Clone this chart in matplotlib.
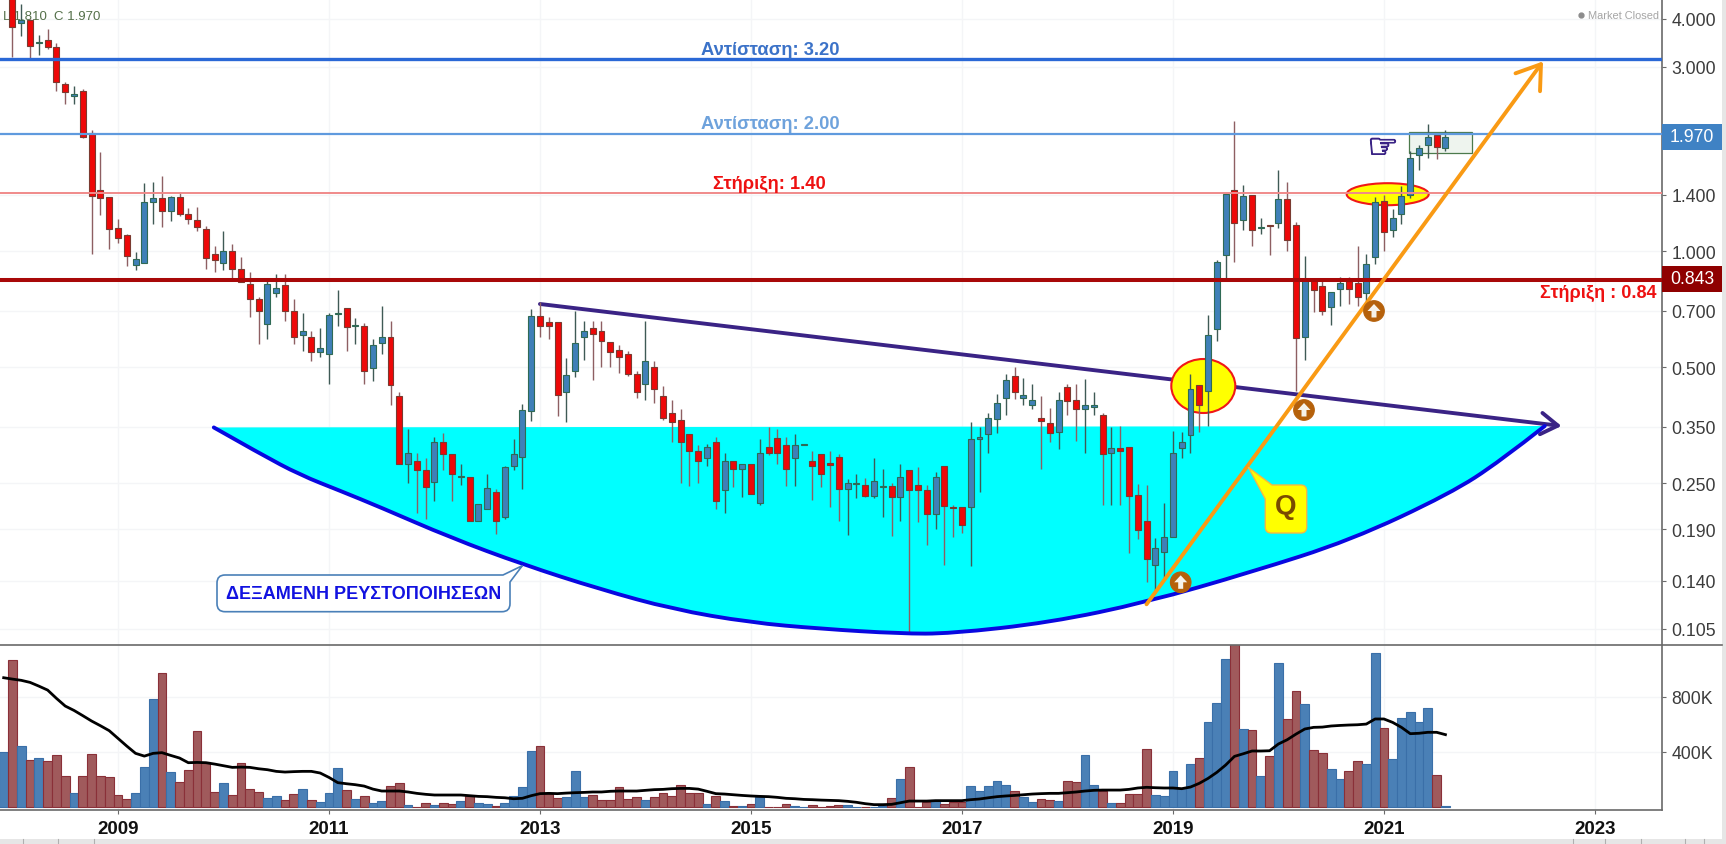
import numpy as np
import matplotlib
matplotlib.use("Agg")
import matplotlib.pyplot as plt
import matplotlib.patheffects as pe
from matplotlib.patches import Ellipse, Circle, Rectangle, PathPatch, Polygon
from matplotlib.path import Path
from matplotlib.lines import Line2D
from matplotlib.transforms import Affine2D
from matplotlib.ticker import NullLocator

plt.rcParams['font.family'] = ['Liberation Sans', 'DejaVu Sans']

# monthly candles, index 0 = Jan 2008, first one (Dec 2007) sits above the view
months = np.arange(-1, 164)
opens = [4.80,
    4.60,3.90,3.97,3.45,3.52,3.38,2.71,2.52,2.60,2.02,
    1.44,1.38,1.15,1.10,.92,.93,1.34,1.37,1.27,1.38,
    1.25,1.20,1.14,.98,.93,1.00,.90,.82,.75,.647,
    .78,.816,.70,.605,.598,.547,.54,.688,.71,.638,
    .64,.497,.578,.598,.42,.28,.285,.27,.252,.32,
    .297,.259,.26,.20,.215,.238,.204,.277,.293,.386,
    .68,.653,.653,.43,.488,.60,.63,.62,.58,.555,
    .54,.481,.451,.50,.42,.38,.365,.336,.304,.29,
    .32,.24,.285,.273,.28,.222,.31,.328,.314,.29,
    .314,.285,.297,.282,.292,.242,.249,.247,.232,.244,
    .246,.23,.27,.247,.241,.208,.277,.217,.217,.217,
    .325,.335,.367,.415,.473,.417,.40,.37,.358,.34,
    .443,.412,.39,.394,.376,.30,.308,.31,.233,.20,
    .154,.166,.181,.308,.333,.45,.433,.628,.976,1.44,
    1.20,1.40,1.148,1.17,1.18,1.36,1.17,.60,.84,.81,
    .715,.796,.838,.828,.78,.966,1.35,1.136,1.25,1.40,
    1.77,1.88,2.00,1.85]
highs = [5.40,
    4.90,4.37,3.99,3.63,3.76,3.46,2.74,2.68,2.63,2.06,
    1.80,1.38,1.21,1.11,.995,1.50,1.51,1.56,1.39,1.42,
    1.29,1.30,1.16,1.03,1.125,1.04,.965,.88,.76,.846,
    .87,.87,.75,.69,.62,.63,.69,.792,.71,.67,
    .65,.591,.72,.66,.431,.346,.30,.29,.33,.337,
    .297,.28,.26,.221,.265,.242,.277,.326,.402,.707,
    .736,.674,.653,.527,.70,.66,.66,.66,.58,.57,
    .55,.49,.66,.52,.446,.41,.39,.336,.314,.316,
    .33,.30,.285,.28,.28,.326,.35,.346,.33,.336,
    .316,.304,.297,.304,.298,.257,.264,.258,.29,.273,
    .25,.28,.27,.275,.247,.267,.277,.22,.217,.36,
    .35,.38,.426,.48,.50,.47,.452,.42,.393,.43,
    .452,.452,.465,.43,.38,.35,.353,.31,.249,.248,
    .18,.222,.342,.34,.48,.45,.683,.945,1.41,2.17,
    1.48,1.40,1.22,1.17,1.62,1.51,1.19,.97,.84,.84,
    .784,.855,.855,1.03,.98,1.38,1.40,1.285,1.47,1.82,
    1.88,2.13,2.00,2.06]
lows = [4.70,
    3.18,3.61,3.12,3.22,3.34,2.60,2.40,2.40,1.96,.98,
    1.24,1.012,1.05,.915,.893,.93,1.175,1.155,1.195,1.23,
    1.175,1.125,.90,.88,.893,.85,.83,.675,.574,.591,
    .76,.66,.574,.55,.52,.53,.452,.64,.55,.574,
    .452,.46,.54,.40,.28,.25,.21,.202,.225,.27,
    .225,.247,.20,.20,.214,.185,.202,.27,.242,.362,
    .60,.591,.373,.36,.472,.523,.463,.50,.50,.484,
    .475,.417,.411,.404,.365,.32,.25,.246,.25,.277,
    .214,.21,.245,.23,.235,.22,.296,.28,.246,.246,
    .314,.226,.244,.217,.20,.184,.229,.231,.229,.205,
    .183,.20,.103,.198,.173,.19,.154,.182,.186,.153,
    .238,.30,.337,.375,.413,.398,.39,.272,.32,.307,
    .376,.322,.30,.376,.22,.22,.22,.165,.179,.139,
    .13,.142,.181,.29,.30,.34,.353,.583,.846,.935,
    1.136,1.03,1.107,.976,1.15,1.00,.435,.523,.693,.684,
    .645,.72,.73,.72,.743,.925,1.00,1.09,1.175,1.37,
    1.625,1.74,1.73,1.82]
closes = [5.20,
    3.81,3.97,3.40,3.47,3.38,2.74,2.58,2.55,1.98,1.39,
    1.37,1.14,1.08,.97,.953,1.34,1.37,1.27,1.38,1.25,
    1.21,1.155,.96,.947,1.00,.898,.83,.75,.70,.82,
    .80,.70,.598,.62,.547,.56,.683,.692,.635,.642,
    .488,.57,.598,.449,.28,.30,.27,.245,.32,.297,
    .264,.261,.20,.221,.243,.20,.275,.297,.388,.677,
    .64,.638,.424,.476,.576,.62,.61,.586,.547,.53,
    .48,.43,.52,.44,.37,.36,.32,.304,.285,.31,
    .225,.285,.273,.28,.235,.30,.30,.30,.272,.314,
    .316,.277,.265,.279,.242,.25,.25,.232,.253,.246,
    .23,.26,.24,.24,.208,.26,.218,.216,.195,.326,
    .33,.37,.403,.463,.432,.424,.41,.362,.337,.412,
    .409,.39,.40,.40,.298,.308,.304,.232,.189,.159,
    .17,.181,.30,.32,.44,.40,.606,.936,1.408,1.18,
    1.39,1.136,1.152,1.158,1.36,1.07,.596,.84,.793,.70,
    .784,.828,.796,.76,.925,1.337,1.123,1.215,1.385,1.745,
    1.85,1.98,1.86,1.97]

# volume in thousands
volumes = [395,
    1064,439,337,351,332,373,225,102,225,381,
    225,213,85,53,102,291,781,970,250,177,
    264,553,322,109,172,85,315,126,109,63,
    75,46,95,126,46,34,102,279,119,53,
    75,27,41,148,172,10,0,24,10,24,
    17,41,80,29,19,2,29,75,141,402,
    439,92,61,70,257,70,82,46,46,141,
    53,68,46,68,99,78,155,99,99,17,
    75,41,2,5,17,68,0,0,17,5,
    0,12,0,5,12,12,0,0,0,5,
    61,201,286,0,36,46,19,32,36,148,
    112,153,184,155,112,68,34,53,46,41,
    184,177,373,160,114,24,29,92,92,417,
    82,78,257,138,308,351,618,756,1076,1300,
    565,560,221,371,1042,637,839,749,410,388,
    274,199,257,330,308,1115,570,347,643,691,
    614,716,233,5]
vol_avg = [938,
    928,919,904,877,848,788,732,700,662,623,
    589,553,497,441,388,368,388,393,373,354,
    320,322,320,310,298,286,288,286,276,269,
    257,252,255,257,257,245,213,175,167,160,
    150,128,114,114,114,107,97,90,85,85,
    85,85,80,75,73,68,65,58,61,80,
    95,97,95,99,102,104,107,107,112,114,
    114,114,119,124,126,131,133,133,128,112,
    95,92,87,82,78,75,73,68,61,58,
    53,51,48,46,44,39,32,22,15,15,
    17,29,41,41,41,44,44,44,44,51,
    56,65,73,78,82,87,92,95,97,97,
    102,107,114,119,121,121,121,126,136,141,
    138,136,136,131,143,170,206,250,303,366,
    385,405,405,407,456,487,528,565,577,579,
    587,591,594,596,601,638,638,613,577,531,
    534,541,541,524]

price_ticks = [4.0, 3.0, 1.4, 1.0, 0.7, 0.5, 0.35, 0.25, 0.19, 0.14, 0.105]
vol_ticks = [400, 800]
year_ticks = [12, 36, 60, 84, 108, 132, 156, 180]
year_labels = ['2009', '2011', '2013', '2015', '2017', '2019', '2021', '2023']

# drawn levels, and the bowl outline
level_prices = [3.15, 2.01, 1.41, 0.843]
bowl_x = [22.9,28.2,32.7,37.3,41.8,49.8,58.1,66.8,75.1,83.9,91.9,101,106.7,118,129,140.8,152.2,163.5,169.2,174.3]
bowl_y = [.349,.298,.263,.239,.217,.181,.154,.133,.118,.109,.105,.102,.102,.109,.123,.147,.178,.235,.285,.352]
trend_x = [60, 176.2]
trend_y = [.729, .352]
up_x = [129, 174.1]
up_y = [.1215, 3.10]

W, H = 1726, 845
fig = plt.figure(figsize=(W/100, H/100), dpi=100)
ax = fig.add_axes([0, (H-646)/H, 1661.7/W, 646/H])
vax = fig.add_axes([0, (H-811)/H, 1661.7/W, 165/H], sharex=ax)

# pixel coordinates from top left, for the hand drawn overlays
pix = Affine2D().scale(1, -1).translate(0, H)

x_lim = (-1.42, 187.6)
ax.set_yscale('log')
ax.set_xlim(*x_lim)
ax.set_ylim(0.0953, 4.498)
vax.set_ylim(-24, 1176)

GRID = '#f4f5f7'
AXC = '#6a6a6a'
for a in (ax, vax):
    a.set_axisbelow(True)
    a.grid(True, color=GRID, lw=1)
    a.yaxis.tick_right()
    a.yaxis.set_minor_locator(NullLocator())
    for s in ('left', 'top', 'bottom'):
        a.spines[s].set_visible(False)
    a.spines['right'].set_color(AXC)
    a.spines['right'].set_linewidth(1.2)
    a.tick_params(axis='y', length=3, width=0.8, color=AXC, pad=4, labelsize=12.7, labelcolor='#3c3c3c')

ax.set_yticks(price_ticks)
ax.set_yticklabels(['%.3f' % p for p in price_ticks])
ax.yaxis.set_minor_locator(NullLocator())
vax.set_yticks(vol_ticks)
vax.set_yticklabels(['%dK' % v for v in vol_ticks])
vax.set_xticks(year_ticks)
vax.set_xticklabels(year_labels, fontweight='bold', fontsize=13.5, color='#111111')
ax.tick_params(axis='x', length=0, labelbottom=False)
vax.spines['bottom'].set_visible(True)
vax.spines['bottom'].set_color(AXC)
vax.spines['bottom'].set_linewidth(1.2)
vax.tick_params(axis='x', length=3, width=0.8, color=AXC, pad=4)

# bowl, drawn as one smooth curve with the read points as controls
pts = list(zip(bowl_x, bowl_y))
verts = [pts[0]]
codes = [Path.MOVETO]
for a_pt, b_pt in zip(pts[1:-2], pts[2:-1]):
    verts += [a_pt, ((a_pt[0]+b_pt[0])/2, np.sqrt(a_pt[1]*b_pt[1]))]
    codes += [Path.CURVE3, Path.CURVE3]
verts += [pts[-2], pts[-1]]
codes += [Path.CURVE3, Path.CURVE3]
ax.add_patch(PathPatch(Path(verts + [pts[0], pts[0]], codes + [Path.LINETO, Path.CLOSEPOLY]),
                       fc='#00ffff', ec='none', zorder=1))
ax.add_patch(PathPatch(Path(verts, codes), fc='none', ec='#0808e0', lw=2.8, zorder=4, capstyle='round'))

# falling trend line goes under the ellipses
ax.annotate('', xy=(trend_x[1], trend_y[1]), xytext=(trend_x[0], trend_y[0]), zorder=1.5,
            arrowprops=dict(arrowstyle='->,head_length=0.55,head_width=0.35', color='#3a2385', lw=2.8,
                            mutation_scale=22, shrinkA=0, shrinkB=0))

# highlights
ax.add_patch(Ellipse((1203.3, 387), 64, 54, transform=pix, fc='#ffff00', ec='#f01818', lw=1.5, zorder=2))
ax.add_patch(Ellipse((1387.7, 195.2), 82, 22, transform=pix, fc='#ffff00', ec='#f01818', lw=1.5, zorder=2))
ax.add_patch(Rectangle((1409.3, 133.3), 62.4, 21, transform=pix, fc='#eef4ee', ec='#4c7a4c', lw=0.9, zorder=2))

ax.text(3, 17, 'L 1.810', transform=pix, color='#55704a', fontsize=9.5, va='center', zorder=2)
ax.text(53.5, 17, 'C 1.970', transform=pix, color='#55704a', fontsize=9.5, va='center', zorder=2)

# candles
o = np.array(opens)
c = np.array(closes)
h = np.array(highs)
l = np.array(lows)
up = c >= o
top = np.maximum(o, c)
bot = np.minimum(o, c)
ax.vlines(months[up], l[up], h[up], color='#3f5a55', lw=1.0, zorder=3)
ax.vlines(months[~up], l[~up], h[~up], color='#8e5f62', lw=1.0, zorder=3)
ax.bar(months[up], (top-bot)[up], bottom=bot[up], width=0.68, color='#3f80b8', edgecolor='#2f6a55', lw=0.8, zorder=3.2)
ax.bar(months[~up], (top-bot)[~up], bottom=bot[~up], width=0.68, color='#ee0808', edgecolor='#7a3a30', lw=0.8, zorder=3.2)

# levels on top of the candles
level_colors = ['#2a68d6', '#5f9ade', '#f08a8a', '#a80808']
level_widths = [2.4, 1.6, 1.4, 2.9]
for p, col, lw in zip(level_prices, level_colors, level_widths):
    ax.axhline(p, color=col, lw=lw, zorder=3.6)

ax.text(770, 51, 'Αντίσταση: 3.20', transform=pix, color='#3b72c8', fontsize=13.2, fontweight='bold', ha='center', va='center', zorder=6)
ax.text(770, 125, 'Αντίσταση: 2.00', transform=pix, color='#6ea2dc', fontsize=13.2, fontweight='bold', ha='center', va='center', zorder=6)
ax.text(769, 184.5, 'Στήριξη: 1.40', transform=pix, color='#ee1111', fontsize=13.2, fontweight='bold', ha='center', va='center', zorder=6)
ax.text(1657, 293, 'Στήριξη : 0.84', transform=pix, color='#ee1111', fontsize=13, fontweight='bold', ha='right', va='center', zorder=6)
ax.plot([1581], [16], 'o', transform=pix, color='#8c8c8c', ms=3.5, zorder=6)
ax.text(1588, 16, 'Market Closed', transform=pix, color='#a5a5a5', fontsize=7.9, va='center', zorder=6)

# rising trend line
ax.annotate('', xy=(up_x[1], up_y[1]), xytext=(up_x[0], up_y[0]), zorder=5,
            arrowprops=dict(arrowstyle='->,head_length=0.62,head_width=0.42', color='#f99a14', lw=2.8,
                            mutation_scale=26, shrinkA=0, shrinkB=0))


def rounded(points, radii):
    # closed path through the points with rounded corners
    verts, codes = [], []
    n = len(points)
    for i in range(n):
        p = np.array(points[i], float)
        a = np.array(points[i-1], float)
        b = np.array(points[(i+1) % n], float)
        r = radii[i]
        p0 = p + (a-p)/np.hypot(*(a-p))*r
        p1 = p + (b-p)/np.hypot(*(b-p))*r
        verts += [p0, p, p1]
        codes += [Path.LINETO, Path.CURVE3, Path.CURVE3]
    codes[0] = Path.MOVETO
    verts.append(verts[0])
    codes.append(Path.CLOSEPOLY)
    return Path(verts, codes)


tank = rounded([(217, 576), (503, 576), (522.3, 566.7), (510, 583), (510, 612.7), (217, 612.7)], [8, 0.1, 0.1, 0.1, 8, 8])
ax.add_patch(PathPatch(tank, transform=pix, fc='white', ec='#4a80b8', lw=1.2, zorder=6))
ax.text(364, 594.5, 'ΔΕΞΑΜΕΝΗ ΡΕΥΣΤΟΠΟΙΗΣΕΩΝ', transform=pix, color='#1212e0', fontsize=13, fontweight='bold', ha='center', va='center', zorder=7)

qbox = rounded([(1248.3, 468.3), (1272, 486), (1306.7, 486), (1306.7, 534), (1265.3, 534), (1265.3, 500)], [0.1, 0.1, 6, 6, 6, 0.1])
ax.add_patch(PathPatch(qbox, transform=pix, fc='#ffff00', ec='#f4b942', lw=1, zorder=6))
ax.text(1286, 507, 'Q', transform=pix, color='#7a4a00', fontsize=20, fontweight='bold', ha='center', va='center', zorder=7)

# up-arrow badges
for cx, cy in [(1180.7, 583.3), (1304, 411), (1374, 312)]:
    ax.add_patch(Circle((cx, cy), 10.3, transform=pix, fc='#b5610b', ec='#b5610b', lw=0.8, zorder=6))
    arrow = [(cx, cy-7), (cx+6.5, cy), (cx+2.5, cy), (cx+2.5, cy+6.5), (cx-2.5, cy+6.5), (cx-2.5, cy), (cx-6.5, cy)]
    ax.add_patch(Polygon(arrow, transform=pix, fc='#f6f3ea', ec='none', zorder=7))

hand = ax.text(1383, 149, '\u261e', transform=pix, family='DejaVu Sans', color='#3a2385', fontsize=25, ha='center', va='center', zorder=6)
hand.set_path_effects([pe.withStroke(linewidth=0.8, foreground='#3a2385')])

# volume panel
vcols = ['#4a80b6' if u else '#a05a5c' for u in up]
vedges = ['#3a6fa8' if u else '#8a3038' for u in up]
vax.bar(months, volumes, width=1.0, color=vcols, edgecolor=vedges, lw=0.8, zorder=2)
vax.plot(months, vol_avg, color='black', lw=2.0, zorder=3)
vax.set_xlim(*x_lim)

# last price tags and the frame bits outside the panels
fig.add_artist(Rectangle((1661.7, 125), 60.3, 26, transform=pix, fc='#3f82c4', ec='none'))
fig.text(1692, 138, '1.970', transform=pix, color='white', fontsize=12.7, ha='center', va='center')
fig.add_artist(Rectangle((1661.7, 267), 60.3, 26, transform=pix, fc='#8f0000', ec='none'))
fig.text(1692, 280, '0.843', transform=pix, color='white', fontsize=12.7, ha='center', va='center')
fig.add_artist(Line2D([0, 1722], [646, 646], transform=pix, color=AXC, lw=1.2))
fig.add_artist(Rectangle((0, 840), W, 5, transform=pix, fc='#e6e6e6', ec='none'))
fig.add_artist(Rectangle((1722, 0), 4, H, transform=pix, fc='#e6e6e6', ec='none'))
for sx in [23, 58, 94, 1573, 1605, 1641, 1685, 1704]:
    fig.add_artist(Line2D([sx, sx], [840, 845], transform=pix, color='#b0b0b0', lw=0.8))

fig.savefig('out.png', dpi=100)
